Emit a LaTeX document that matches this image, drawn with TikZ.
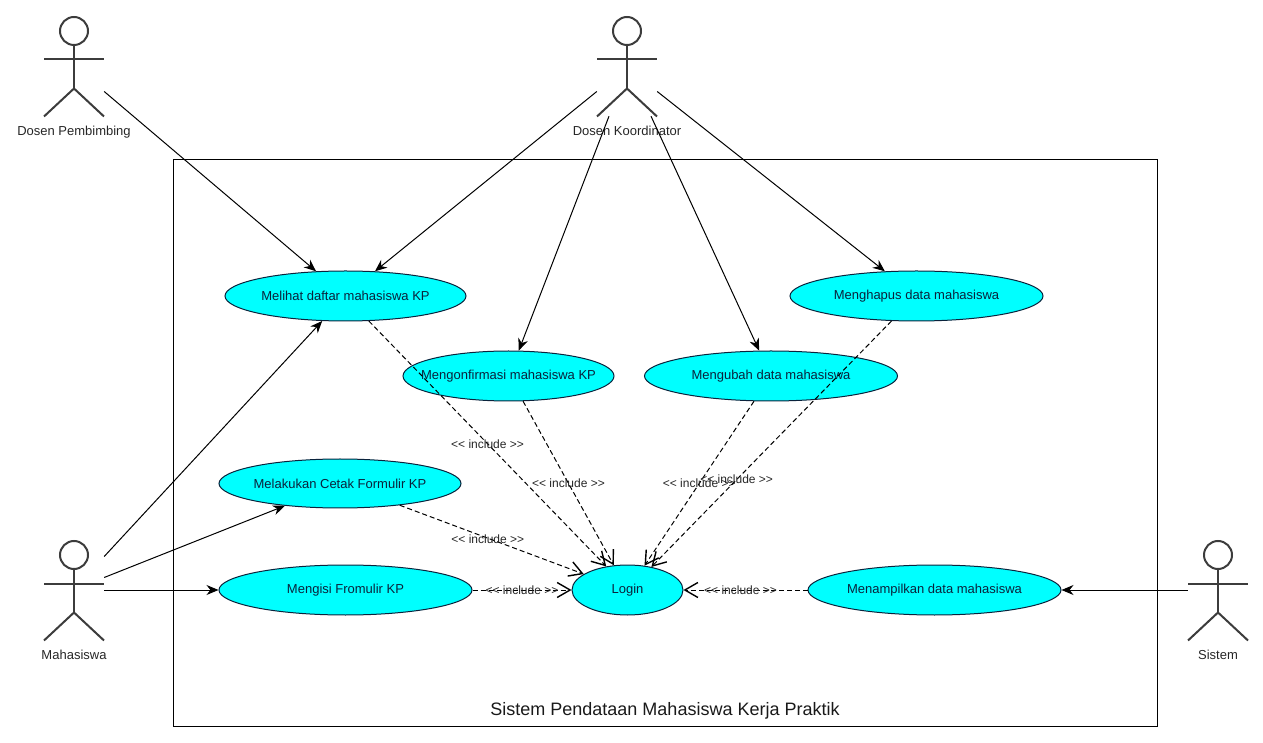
\documentclass[tikz,border=0pt]{standalone}
\usepackage{fontspec}
\setmainfont{Liberation Sans}
\usetikzlibrary{shapes.geometric}
\usetikzlibrary{positioning}
\usetikzlibrary{arrows.meta}
\newcommand{\usecasetext}[1]{\raisebox{-2pt}{\makebox[0pt]{#1}}}
\definecolor{usecasefill}{RGB}{0,255,255}
\definecolor{usecaseline}{RGB}{10,35,60}
\definecolor{actorline}{RGB}{60,60,60}
\tikzstyle{usecase} = [ellipse, inner sep=0pt, minimum width=253pt, minimum height=50pt, text centered, draw=usecaseline, line width=1pt, fill=usecasefill, text=usecaseline, font=\fontsize{13}{15}\selectfont]
\tikzstyle{actorbox} = [rectangle, inner sep=0pt, minimum width=60pt, minimum height=99pt]
\tikzstyle{actorlabel} = [inner sep=0pt, text=black!85, font=\fontsize{13}{15}\selectfont]
\tikzstyle{arrow} = [line width=1pt,-{Stealth[length=12pt,width=10pt]}]
\tikzstyle{includearrow} = [line width=1pt,dash pattern=on 5pt off 3pt,-{Straight Barb[length=13pt,width=15pt,line width=1.4pt]}]
\tikzstyle{includelabel} = [inner sep=0pt, text=black!85, font=\fontsize{12}{14}\selectfont]
\tikzset{stickman/.pic={
    \draw [actorline, line width=2pt] (0,35.5) circle (14pt);
    \draw [actorline, line width=2pt] (0,21.5) -- (0,-22);
    \draw [actorline, line width=2pt] (-30,7) -- (30,7);
    \draw [actorline, line width=2pt] (-30,-50) -- (0,-22) -- (30,-50);
}}
\begin{document}
\begin{tikzpicture}[x=1pt,y=1pt]
        \useasboundingbox (0,0) rectangle (1263,742);
        \node (system) [draw=black, line width=1pt, rectangle, minimum width=984pt, minimum height=567pt, inner sep=0pt] at (665,299) {};
        \node (systemTitle) [inner sep=0pt, text=black!90, font=\fontsize{18}{21}\selectfont] at (665,31) {Sistem Pendataan Mahasiswa Kerja Praktik};

        \node (melihat) [usecase, minimum width=241pt] at (345.5,446) {\usecasetext{Melihat daftar mahasiswa KP}};
        \node (mengonfirmasi) [usecase, minimum width=211pt] at (508.5,366) {\usecasetext{Mengonfirmasi mahasiswa KP}};
        \node (mengubah) [usecase, right of=mengonfirmasi, node distance=262.5pt] {\usecasetext{Mengubah data mahasiswa}};
        \node (menghapus) [usecase, right of=melihat, node distance=571pt] {\usecasetext{Menghapus data mahasiswa}};
        \node (cetak) [usecase, minimum width=242pt, minimum height=49pt] at (340,258.5) {\usecasetext{Melakukan Cetak Formulir KP}};
        \node (mengisi) [usecase] at (345.5,152) {\usecasetext{Mengisi Fromulir KP}};
        \node (login) [usecase, minimum width=111pt] at (627.5,152) {\usecasetext{Login}};
        \node (menampilkan) [usecase] at (934.5,152) {\usecasetext{Menampilkan data mahasiswa}};

        \node (pembimbing) [actorbox] at (74,675.5) {};
        \node (koordinator) [actorbox] at (627,675.5) {};
        \node (mahasiswa) [actorbox] at (74,151.5) {};
        \node (sistem) [actorbox] at (1218,151.5) {};
        \pic at (pembimbing) {stickman};
        \pic at (koordinator) {stickman};
        \pic at (mahasiswa) {stickman};
        \pic at (sistem) {stickman};
        \node (pembimbingLabel) [actorlabel, below=10pt of pembimbing] {Dosen Pembimbing};
        \node (koordinatorLabel) [actorlabel, below=10pt of koordinator] {Dosen Koordinator};
        \node (mahasiswaLabel) [actorlabel, below=10pt of mahasiswa] {Mahasiswa};
        \node (sistemLabel) [actorlabel, below=10pt of sistem] {Sistem};

        \coordinate (pembimbingOut) at ([yshift=-25pt]pembimbing.east);
        \coordinate (koordinatorLeft) at ([yshift=-25pt]koordinator.west);
        \coordinate (koordinatorRight) at ([yshift=-25pt]koordinator.east);
        \coordinate (koordinatorKiri) at ([xshift=-18pt]koordinator.south);
        \coordinate (koordinatorKanan) at ([xshift=24pt]koordinator.south);
        \coordinate (mahasiswaTop) at ([yshift=34pt]mahasiswa.east);
        \coordinate (mahasiswaMid) at ([yshift=13pt]mahasiswa.east);
        \coordinate (mahasiswaLow) at ([yshift=0.5pt]mahasiswa.east);
        \coordinate (sistemOut) at ([yshift=0.5pt]sistem.west);

        \draw [arrow] (pembimbingOut) -- (melihat.140);
        \draw [arrow] (koordinatorLeft) -- (melihat.40);
        \draw [arrow] (koordinatorKiri) -- (mengonfirmasi.68);
        \draw [arrow] (koordinatorKanan) -- (mengubah.115);
        \draw [arrow] (koordinatorRight) -- (menghapus.142);
        \draw [arrow] (mahasiswaTop) -- (melihat.227);
        \draw [arrow] (mahasiswaMid) -- (cetak.202);
        \draw [arrow] (mahasiswaLow) -- (mengisi.west);
        \draw [arrow] (sistemOut) -- (menampilkan.east);

        \draw [includearrow] (melihat.313) -- node[includelabel] {<{}< include >{}>} (login.132);
        \draw [includearrow] (mengonfirmasi.300) -- node[includelabel] {<{}< include >{}>} (login.119);
        \draw [includearrow] (cetak.340) -- node[includelabel, xshift=-4pt] {<{}< include >{}>} (login.160);
        \draw [includearrow] (mengubah.236) -- node[includelabel] {<{}< include >{}>} (login.55);
        \draw [includearrow] (menghapus.225) -- node[includelabel, pos=0.645] {<{}< include >{}>} (login.44);
        \draw [includearrow] (mengisi.east) -- node[includelabel] {<{}< include >{}>} (login.west);
        \draw [includearrow] (menampilkan.west) -- node[includelabel, pos=0.54] {<{}< include >{}>} (login.east);
    \end{tikzpicture}
\end{document}
